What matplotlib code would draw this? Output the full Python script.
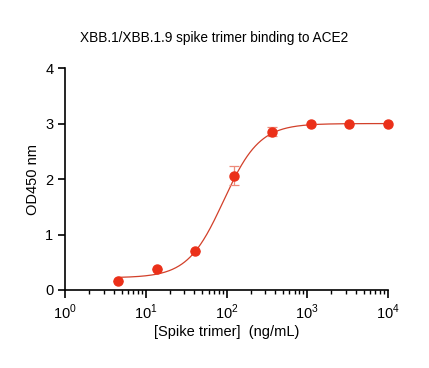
import numpy as np
import matplotlib.pyplot as plt
from matplotlib.ticker import LogLocator, FixedLocator

plt.rcParams['font.family'] = ['Liberation Sans', 'DejaVu Sans']
plt.rcParams['mathtext.fontset'] = 'custom'
plt.rcParams['mathtext.rm'] = 'Liberation Sans'

# Data: 3-fold dilution series of spike trimer
conc = [4.57, 13.7, 41.2, 123.5, 370.4, 1111.1, 3333.3, 10000]
od450 = [0.17, 0.37, 0.71, 2.06, 2.85, 3.00, 3.00, 3.00]
od_err = [0.0, 0.0, 0.0, 0.17, 0.08, 0.0, 0.0, 0.0]

# Four-parameter logistic fit parameters (bottom, top, EC50, Hill slope)
fit_bottom = 0.22
fit_top = 3.0
fit_ec50 = 92.0
fit_hill = 1.95

red = '#EB3019'

fig = plt.figure(figsize=(4.29, 3.68), dpi=100)
ax = fig.add_axes([0.152, 0.212, 0.752, 0.603])

# Fitted curve
xs = np.logspace(np.log10(conc[0]), np.log10(conc[-1]), 400)
ys = fit_bottom + (fit_top - fit_bottom) / (1 + (fit_ec50 / xs) ** fit_hill)
ax.plot(xs, ys, color='#D2402A', lw=0.9, zorder=2, clip_on=False)

# Error bars and points
ax.errorbar(conc, od450, yerr=od_err, fmt='none', ecolor='#EE8A7A',
            elinewidth=0.9, capsize=3.5, capthick=0.9, zorder=3)
ax.plot(conc, od450, 'o', color=red, ms=6.5, mec=red, zorder=4, clip_on=False)

ax.set_xscale('log')
ax.set_xlim(1, 1e4)
ax.set_ylim(0, 4)
ax.set_yticks([0, 1, 2, 3, 4])
ax.xaxis.set_major_locator(FixedLocator([1, 10, 100, 1000, 10000]))
ax.xaxis.set_minor_locator(LogLocator(base=10, subs=np.arange(2, 10), numticks=20))
ax.set_xticklabels([r'$10^{0}$', r'$10^{1}$', r'$10^{2}$', r'$10^{3}$', r'$10^{4}$'])

for s in ['top', 'right']:
    ax.spines[s].set_visible(False)
for s in ['left', 'bottom']:
    ax.spines[s].set_linewidth(1.2)
ax.tick_params(axis='both', which='major', direction='out', length=5, width=1.2,
               labelsize=10.5, colors='black')
ax.tick_params(axis='x', which='minor', direction='out', length=3, width=1.0)
ax.tick_params(axis='x', which='major', length=6)

ax.set_xlabel('[Spike trimer]  (ng/mL)', fontsize=10.5, labelpad=2)
ax.set_ylabel('OD450 nm', fontsize=10.5, labelpad=4)
fig.suptitle('XBB.1/XBB.1.9 spike trimer binding to ACE2', fontsize=9.8, y=0.915)

fig.savefig('out.png', dpi=100)
